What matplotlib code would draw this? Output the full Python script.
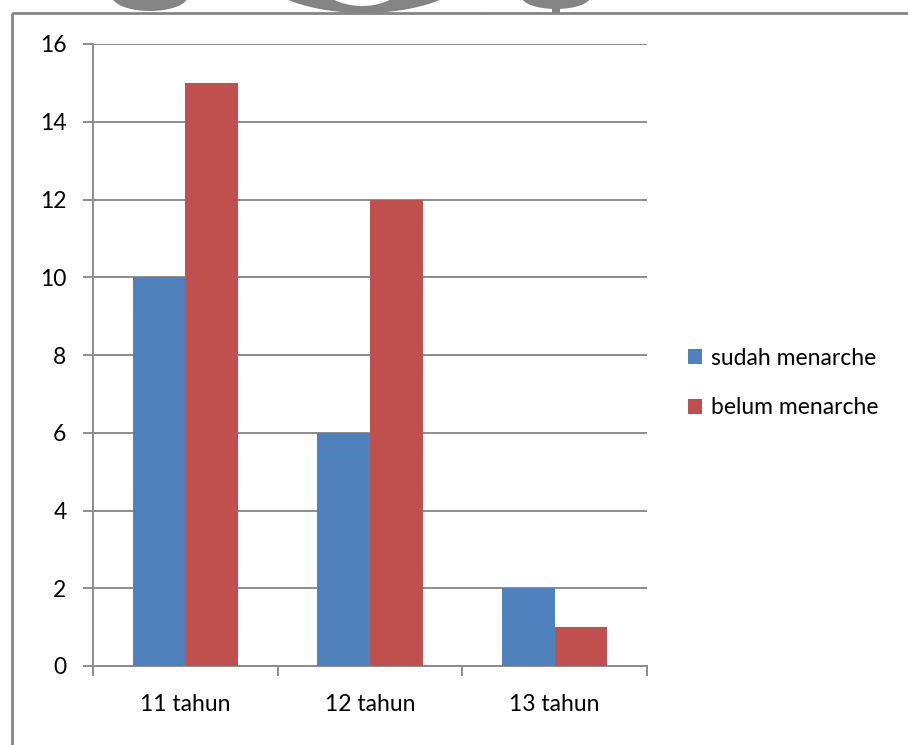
import matplotlib.pyplot as plt
import numpy as np
from matplotlib.patches import Rectangle, Ellipse

# Umur responden dan status menarche
categories = ['11 tahun', '12 tahun', '13 tahun']
sudah = [10, 6, 2]
belum = [15, 12, 1]
series_names = ['sudah menarche', 'belum menarche']
y_ticks = [0, 2, 4, 6, 8, 10, 12, 14, 16]

W, H = 908, 745
plt.rcParams['font.family'] = ['Lato', 'DejaVu Sans']
fig = plt.figure(figsize=(W / 100, H / 100), dpi=100)

# page layer in pixel units: cut-off logo at the top and the chart frame
bg = fig.add_axes([0, 0, 1, 1], zorder=0)
bg.set_xlim(0, W)
bg.set_ylim(H, 0)
bg.axis('off')
logo_c = '#848484'
bg.add_patch(Ellipse((150, -4), 76, 30, color=logo_c, lw=0))
bg.add_patch(Ellipse((364, -40), 232, 106, color=logo_c, lw=0))
bg.add_patch(Ellipse((362, -40), 112, 92, color='white', lw=0))
bg.add_patch(Ellipse((556, -4), 70, 26, color=logo_c, lw=0))
bg.add_patch(Rectangle((552, 6), 8, 14, color=logo_c, lw=0))
bg.add_patch(Ellipse((486, 15), 8, 6, color='#a0a0a0', lw=0))
bg.add_patch(Rectangle((0, 13), W, H, facecolor='white', lw=0, zorder=2))
bg.add_patch(Rectangle((12, 13), W + 10, H, fill=False, edgecolor='#858585',
                       linewidth=2.0, zorder=3))

ax = fig.add_axes([93 / W, 1 - 666 / H, (647 - 93) / W, (666 - 44) / H], zorder=1)
ax.patch.set_alpha(0)

grid_c = '#8c8c8c'
fs = 16.5
x = np.arange(len(categories))
bw = 1 / 3.5
ax.bar(x - bw / 2, sudah, bw, color='#4f81bd', label=series_names[0], zorder=3)
ax.bar(x + bw / 2, belum, bw, color='#c0504d', label=series_names[1], zorder=3)

ax.set_xlim(-0.5, len(categories) - 0.5)
ax.set_ylim(0, 16)
ax.set_yticks(y_ticks)
ax.set_yticklabels([str(v) for v in y_ticks], fontsize=fs)
ax.yaxis.grid(True, color=grid_c, linewidth=1.4, zorder=0)
ax.set_axisbelow(True)

ax.set_xticks(x)
ax.set_xticklabels(categories, fontsize=fs)
ax.tick_params(axis='x', length=0, pad=20)
ax.set_xticks(np.arange(len(categories) + 1) - 0.5, minor=True)
ax.tick_params(axis='x', which='minor', length=7, width=1.4, color=grid_c)
ax.tick_params(axis='y', length=7, width=1.4, color=grid_c, pad=12)

for s in ['top', 'right']:
    ax.spines[s].set_visible(False)
for s in ['left', 'bottom']:
    ax.spines[s].set_color(grid_c)
    ax.spines[s].set_linewidth(1.4)

ax.legend(loc='center left', bbox_to_anchor=((688 - 93) / 554, 1 - (383 - 44) / 622),
          frameon=False, fontsize=fs, handlelength=0.62, handleheight=0.62,
          handletextpad=0.4, labelspacing=1.25, borderpad=0, borderaxespad=0)

fig.savefig('out.png', dpi=100)
